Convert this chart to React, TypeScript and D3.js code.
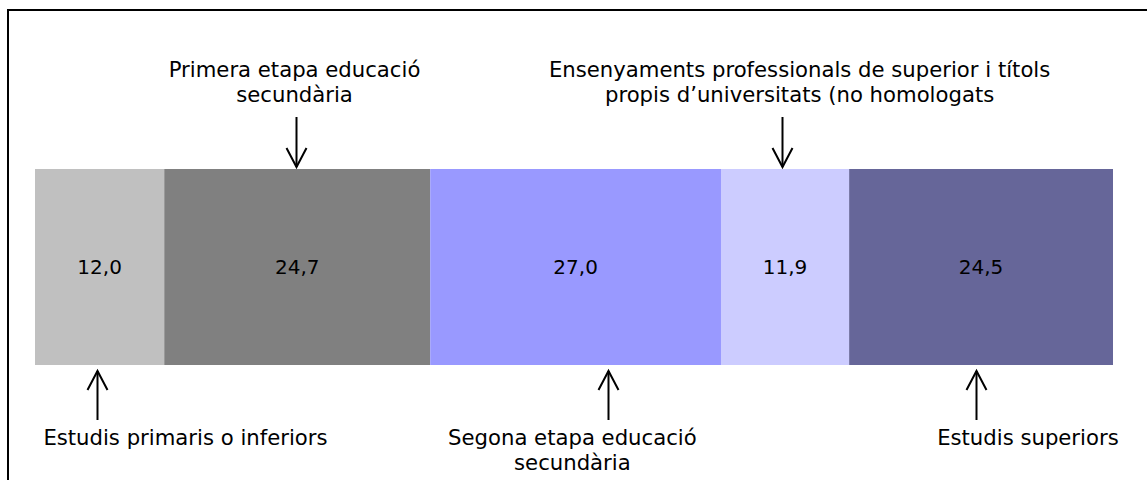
import React from "react";
import * as d3 from "d3";

const categories = [
  "Estudis primaris o inferiors",
  "Primera etapa educació secundària",
  "Segona etapa educació secundària",
  "Ensenyaments professionals de superior i títols propis d’universitats (no homologats",
  "Estudis superiors",
];
const values = [12.0, 24.7, 27.0, 11.9, 24.5];
const colors = ["#C0C0C0", "#808080", "#9999FF", "#CCCCFF", "#666699"];

// annotation placement in data units along the bar
const annSide = ["below", "above", "below", "above", "below"];
const annArrowAt = [5.75, 24.2, 53.2, 69.4, 87.4];
const annLabelAt = [13.97, 24.1, 49.9, 71.0, 92.2];
const annLines = [
  ["Estudis primaris o inferiors"],
  ["Primera etapa educació", "secundària"],
  ["Segona etapa educació", "secundària"],
  ["Ensenyaments professionals de superior i títols", "propis d’universitats (no homologats"],
  ["Estudis superiors"],
];

const W = 1147;
const H = 480;
const FONT = "'DejaVu Sans', Verdana, sans-serif";
const LABEL_SIZE = 21.2;
const VALUE_SIZE = 20;

export default function App() {
  const total = d3.sum(values);
  const x = d3.scaleLinear().domain([0, total]).range([35, 1113]);
  const y = d3.scaleBand().domain(["bar"]).range([169, 365]).padding(0);
  const stack = d3.cumsum(values);
  const starts = values.map((v, i) => stack[i] - v);
  const fmt = (v: number) => d3.format(".1f")(v).replace(".", ",");

  const barTop = y("bar") as number;
  const barBot = barTop + y.bandwidth();
  const lineH = 25;

  const arrowHead = 10;
  const arrowLen = 19;

  return (
    <svg
      width={W}
      height={H}
      style={{ position: "absolute", left: 0, top: 0, background: "#fff" }}
      fontFamily={FONT}
    >
      <rect x={0} y={0} width={W} height={H} fill="#fff" />
      <path d={`M8,${H + 5} V10 H${W + 5}`} fill="none" stroke="#000" strokeWidth={2} />
      {values.map((v, i) => (
        <g key={i}>
          <rect
            x={x(starts[i])}
            y={barTop}
            width={x(stack[i]) - x(starts[i])}
            height={y.bandwidth()}
            fill={colors[i]}
          />
          <text
            x={(x(starts[i]) + x(stack[i])) / 2}
            y={(barTop + barBot) / 2 + 7}
            textAnchor="middle"
            fontSize={VALUE_SIZE}
            fill="#000"
          >
            {fmt(v)}
          </text>
        </g>
      ))}
      {categories.map((c, i) => {
        const ax = Math.round(x(annArrowAt[i])) + 0.5;
        const lx = x(annLabelAt[i]);
        if (annSide[i] === "above") {
          const y0 = 117;
          const y1 = barTop - 2;
          return (
            <g key={c}>
              <line x1={ax} x2={ax} y1={y0} y2={y1} stroke="#000" strokeWidth={2} />
              <path
                d={`M${ax - arrowHead},${y1 - arrowLen} L${ax},${y1} L${ax + arrowHead},${y1 - arrowLen}`}
                fill="none"
                stroke="#000"
                strokeWidth={2}
              />
              {annLines[i].map((t, j) => (
                <text key={j} x={lx} y={77 + j * lineH} textAnchor="middle" fontSize={LABEL_SIZE} fill="#000">
                  {t}
                </text>
              ))}
            </g>
          );
        }
        const y0 = barBot + 6;
        const y1 = 420;
        return (
          <g key={c}>
            <line x1={ax} x2={ax} y1={y0} y2={y1} stroke="#000" strokeWidth={2} />
            <path
              d={`M${ax - arrowHead},${y0 + arrowLen} L${ax},${y0} L${ax + arrowHead},${y0 + arrowLen}`}
              fill="none"
              stroke="#000"
              strokeWidth={2}
            />
            {annLines[i].map((t, j) => (
              <text key={j} x={lx} y={445 + j * lineH} textAnchor="middle" fontSize={LABEL_SIZE} fill="#000">
                {t}
              </text>
            ))}
          </g>
        );
      })}
    </svg>
  );
}
